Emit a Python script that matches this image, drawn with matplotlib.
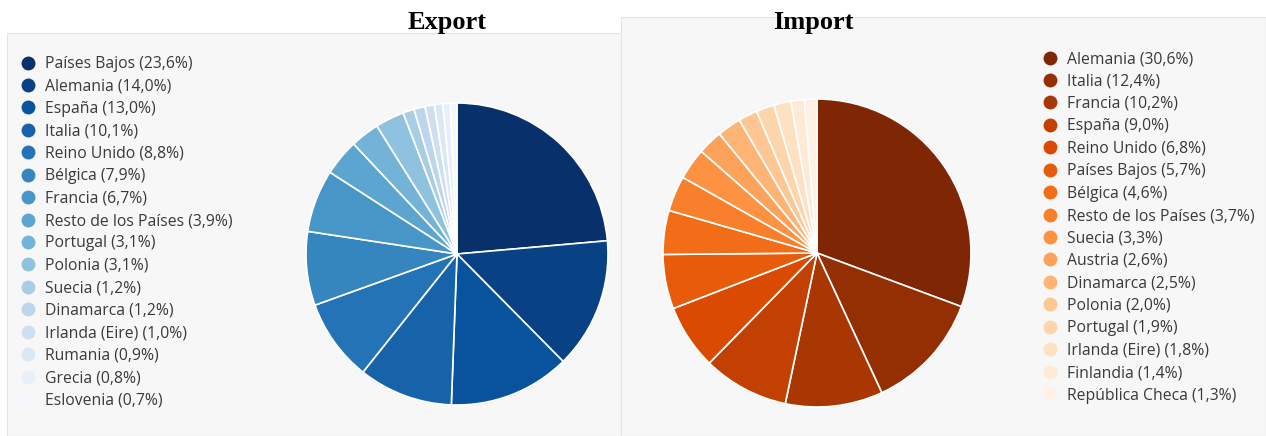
import numpy as np
import matplotlib.pyplot as plt
from matplotlib.patches import Rectangle
from matplotlib.lines import Line2D

export_labels = ["Países Bajos", "Alemania", "España", "Italia", "Reino Unido", "Bélgica",
                 "Francia", "Resto de los Países", "Portugal", "Polonia", "Suecia",
                 "Dinamarca", "Irlanda (Eire)", "Rumania", "Grecia", "Eslovenia"]
export_share = [23.6, 14.0, 13.0, 10.1, 8.8, 7.9, 6.7, 3.9, 3.1, 3.1, 1.2, 1.2, 1.0, 0.9, 0.8, 0.7]

import_labels = ["Alemania", "Italia", "Francia", "España", "Reino Unido", "Países Bajos",
                 "Bélgica", "Resto de los Países", "Suecia", "Austria", "Dinamarca",
                 "Polonia", "Portugal", "Irlanda (Eire)", "Finlandia", "República Checa"]
import_share = [30.6, 12.4, 10.2, 9.0, 6.8, 5.7, 4.6, 3.7, 3.3, 2.6, 2.5, 2.0, 1.9, 1.8, 1.4, 1.3]

W, H = 1266, 436
fig = plt.figure(figsize=(W / 100, H / 100), dpi=100)
fig.patch.set_facecolor("white")

bg = "#f7f7f7"
# panel backgrounds (pixel coords -> figure fraction)
def px(x, y):
    return x / W, 1 - y / H

fig.patches.append(Rectangle(px(7, 436), (621 - 7) / W, (436 - 33) / H,
                             transform=fig.transFigure, facecolor=bg,
                             edgecolor="#e4e4e4", linewidth=0.8, zorder=-2))
fig.patches.append(Rectangle(px(621, 436), (W - 621) / W, (436 - 17) / H,
                             transform=fig.transFigure, facecolor=bg,
                             edgecolor="#e4e4e4", linewidth=0.8, zorder=-2))


def draw_pie(cx, cy, r, values, colors):
    x0, y0 = px(cx - r, cy + r)
    ax = fig.add_axes([x0, y0, 2 * r / W, 2 * r / H])
    ax.pie(values, colors=colors, startangle=90, counterclock=False,
           wedgeprops=dict(edgecolor="white", linewidth=1.2))
    ax.set_xlim(-1, 1)
    ax.set_ylim(-1, 1)
    ax.set_aspect("auto")
    ax.axis("off")
    return ax


blues = plt.cm.Blues(np.linspace(1.0, 0.02, len(export_share)))
oranges = plt.cm.Oranges(np.linspace(1.0, 0.03, len(import_share)))

draw_pie(457, 254, 151, export_share, blues)
draw_pie(817, 253, 154, import_share, oranges)


def fmt(v):
    return f"({v:.1f}%)".replace(".", ",")


def legend(labels, values, colors, x, y):
    handles = [Line2D([], [], linestyle="none", marker="o", markersize=10,
                      markerfacecolor=c, markeredgecolor="none") for c in colors]
    texts = [f"{l} {fmt(v)}" for l, v in zip(labels, values)]
    leg = fig.legend(handles, texts, loc="upper left", bbox_to_anchor=px(x, y),
                     frameon=False, handlelength=0.6, handletextpad=0.76,
                     labelspacing=0.41, borderpad=0, borderaxespad=0,
                     prop=dict(family="Open Sans", size=11.3))
    for t in leg.get_texts():
        t.set_color("#3a3a3a")
    return leg


legend(export_labels, export_share, blues, 23.3, 56)
legend(import_labels, import_share, oranges, 1045.3, 51)

fig.text(447 / W, 1 - 23 / H, "Export", ha="center", va="center",
         family="Liberation Serif", weight="bold", size=19)
fig.text(813 / W, 1 - 23 / H, "Import", ha="center", va="center",
         family="Liberation Serif", weight="bold", size=19)

fig.savefig("out.png", dpi=100)
